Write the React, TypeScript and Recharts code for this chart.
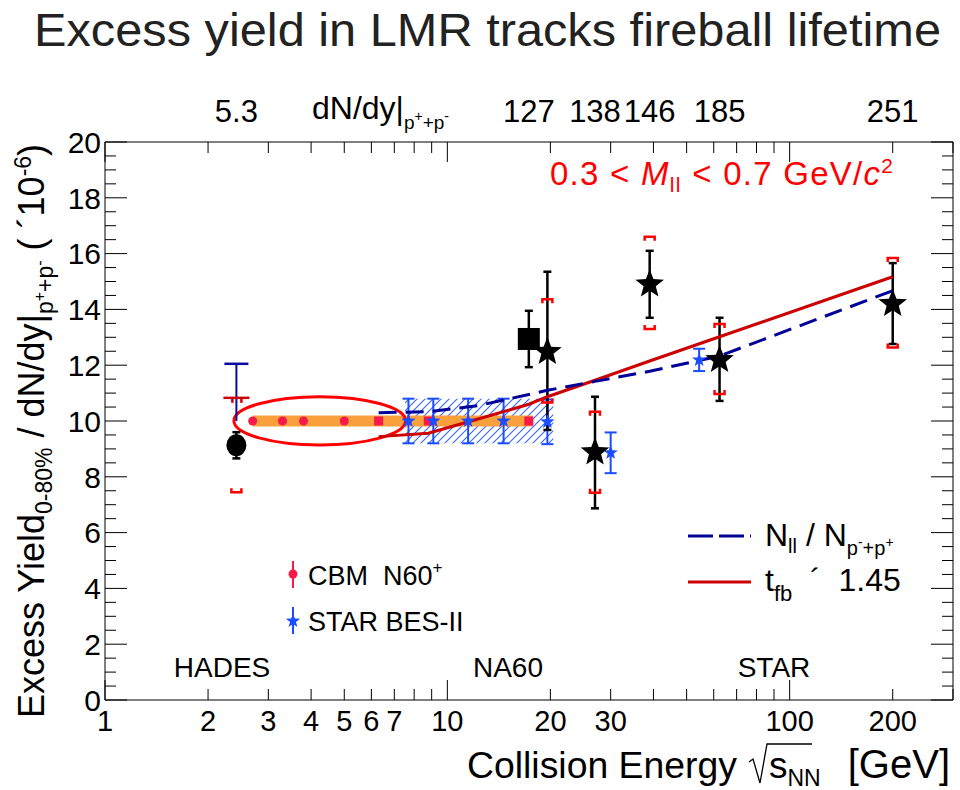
import React from 'react';
import { ComposedChart, XAxis, YAxis, Scatter, Line, ErrorBar, ReferenceArea } from 'recharts';

const FONT = '"Liberation Sans", Arial, Helvetica, sans-serif';

// HADES Au+Au
const hadesEnergy = [2.42];
const hadesYield = [9.13];
const hadesStat = [0.47];
const hadesSysHigh = [10.83];
const hadesSysLow = [7.45];
const hadesBarBase = [10];
const hadesBarTop = [12.05];

// NA60 In+In
const na60Energy = [17.3];
const na60Yield = [12.94];
const na60Stat = [1.01];

// STAR BES-I / 200 GeV
const starEnergy = [19.6, 27, 39, 62.4, 200];
const starYield = [12.48, 8.88, 14.9, 12.19, 14.2];
const starStatLow = [2.8, 2.01, 1.2, 1.47, 1.44];
const starStatHigh = [2.87, 1.99, 1.2, 1.51, 1.46];
const starSysHigh = [14.36, 10.33, 16.6, 13.48, 15.84];
const starSysLow = [10.66, 7.43, 13.3, 10.97, 12.63];

// CBM / NA60+ projections
const cbmEnergy = [2.7, 3.3, 3.8, 5.0];
const cbmYield = [10, 10, 10, 10];
const na60pEnergy = [6.3, 8.8, 17.3];
const na60pYield = [10, 10, 10];
const bandX = [2.7, 17.8];
const bandY = [9.8, 10.2];
const ellipseX = [2.38, 7.55];
const ellipseY = [9.14, 10.87];

// STAR BES-II projections
const besEnergy = [7.7, 9.1, 11.5, 14.6, 19.6, 30, 54.4];
const besYield = [10, 10, 10, 10, 9.97, 8.86, 12.19];
const besErr = [0.8, 0.8, 0.8, 0.8, 0.8, 0.73, 0.4];
const hatchX = [7.53, 20.4];
const hatchY = [9.2, 10.8];

// model curves
const modelEnergy = [6.3, 8.8, 12.3, 17.3, 19.6, 27, 39, 62.4, 200];
const lifetimeCurve = [9.44, 9.56, 10.07, 10.6, 10.87, 11.46, 12.15, 13.02, 15.17];
const ratioCurve = [10.3, 10.33, 10.55, 10.95, 11.1, 11.42, 11.78, 12.33, 14.67];

// axes
const xTicks = [1, 2, 3, 4, 5, 6, 7, 8, 9, 10, 20, 30, 40, 50, 60, 70, 80, 90, 100, 200, 300];
const xMajor = [1, 10, 100];
const xTickLabels = [1, 2, 3, 4, 5, 6, 7, 10, 20, 30, 100, 200];
const yMajor = [0, 2, 4, 6, 8, 10, 12, 14, 16, 18, 20];
const dndyEnergy = [2.42, 17.3, 27, 39, 62.4, 200];
const dndyLabels = ['5.3', '127', '138', '146', '185', '251'];

const yTicks = yMajor.flatMap((v) => (v < 20 ? [v, v + 0.5, v + 1, v + 1.5] : [v]));
const topTicks = Array.from(new Set([...xTicks, ...dndyEnergy])).sort((a, b) => a - b);

const hadesData = hadesEnergy.map((x, i) => ({ x, y: hadesYield[i], err: [hadesStat[i], hadesStat[i]] }));
const hadesSysTop = hadesEnergy.map((x, i) => ({ x, y: hadesSysHigh[i] }));
const hadesSysBottom = hadesEnergy.map((x, i) => ({ x, y: hadesSysLow[i] }));
const hadesBar = [
  { x: hadesEnergy[0], y: hadesBarBase[0] },
  { x: hadesEnergy[0], y: hadesBarTop[0] },
];
const na60Data = na60Energy.map((x, i) => ({ x, y: na60Yield[i], err: [na60Stat[i], na60Stat[i]] }));
const starData = starEnergy.map((x, i) => ({ x, y: starYield[i], err: [starStatLow[i], starStatHigh[i]] }));
const starSysTop = starEnergy.map((x, i) => ({ x, y: starSysHigh[i] }));
const starSysBottom = starEnergy.map((x, i) => ({ x, y: starSysLow[i] }));
const cbmData = cbmEnergy.map((x, i) => ({ x, y: cbmYield[i] }));
const na60pData = na60pEnergy.map((x, i) => ({ x, y: na60pYield[i] }));
const besData = besEnergy.map((x, i) => ({ x, y: besYield[i], err: [besErr[i], besErr[i]] }));
const lifetimeData = modelEnergy.map((x, i) => ({ x, y: lifetimeCurve[i] }));
const ratioData = modelEnergy.map((x, i) => ({ x, y: ratioCurve[i] }));

const CBM_RED = '#f7194a';
const BES_BLUE = '#1a4dff';
const NB = '\u00a0';

function starPoints(cx: number, cy: number, R: number, r: number) {
  const pts: string[] = [];
  for (let k = 0; k < 10; k++) {
    const a = ((-90 + k * 36) * Math.PI) / 180;
    const rad = k % 2 === 0 ? R : r;
    pts.push(`${(cx + rad * Math.cos(a)).toFixed(2)},${(cy + rad * Math.sin(a)).toFixed(2)}`);
  }
  return pts.join(' ');
}

const BlackStar = (p: any) => <polygon points={starPoints(p.cx, p.cy, 15, 6.4)} fill="#000" />;
const BlueStar = (p: any) => <polygon points={starPoints(p.cx, p.cy, 7.5, 3.1)} fill={BES_BLUE} />;
const BlackCircle = (p: any) => <ellipse cx={p.cx} cy={p.cy} rx={10} ry={11} fill="#000" />;
const BlackSquare = (p: any) => <rect x={p.cx - 11} y={p.cy - 11} width={22} height={22} fill="#000" />;
const RedDot = (p: any) => <circle cx={p.cx} cy={p.cy} r={4.5} fill={CBM_RED} />;
const RedSquare = (p: any) => <rect x={p.cx - 4.5} y={p.cy - 4.5} width={9} height={9} fill={CBM_RED} />;
const SysTop = (p: any) => (
  <path d={`M${p.cx - 5},${p.cy + 4}V${p.cy}H${p.cx + 5}V${p.cy + 4}`} fill="none" stroke="#ff0000" strokeWidth={2.5} />
);
const SysBottom = (p: any) => (
  <path d={`M${p.cx - 5},${p.cy - 4}V${p.cy}H${p.cx + 5}V${p.cy - 4}`} fill="none" stroke="#ff0000" strokeWidth={2.5} />
);
const HadesSysTop = (p: any) => (
  <g stroke="#cc0000" strokeWidth={2.5}>
    <line x1={p.cx - 13} x2={p.cx + 13} y1={p.cy} y2={p.cy} />
    <line x1={p.cx - 4} x2={p.cx - 4} y1={p.cy} y2={p.cy + 5} />
    <line x1={p.cx + 5} x2={p.cx + 5} y1={p.cy} y2={p.cy + 5} />
  </g>
);

function BottomTick(props: any) {
  const { x, y, payload } = props;
  const v = payload.value;
  return (
    <g>
      <line x1={x} x2={x} y1={y} y2={y - (xMajor.includes(v) ? 20 : 11)} stroke="#000" />
      {xTickLabels.includes(v) && (
        <text x={x} y={y + 31} textAnchor="middle" fontSize={29} fontFamily={FONT} fill="#000">
          {v}
        </text>
      )}
    </g>
  );
}

function TopTick(props: any) {
  const { x, y, payload } = props;
  const v = payload.value;
  const li = dndyEnergy.indexOf(v);
  return (
    <g>
      {xTicks.includes(v) && <line x1={x} x2={x} y1={y} y2={y + (xMajor.includes(v) ? 20 : 11)} stroke="#000" />}
      {li >= 0 && (
        <text x={x} y={y - 20} textAnchor="middle" fontSize={31} fontFamily={FONT} fill="#000">
          {dndyLabels[li]}
        </text>
      )}
    </g>
  );
}

function LeftTick(props: any) {
  const { x, y, payload } = props;
  const v = payload.value;
  const major = yMajor.includes(v);
  return (
    <g>
      <line x1={x} x2={x + (major ? 22 : 11)} y1={y} y2={y} stroke="#000" />
      {major && (
        <text x={x - 4} y={y} dy="0.36em" textAnchor="end" fontSize={30} fontFamily={FONT} fill="#000">
          {v}
        </text>
      )}
    </g>
  );
}

function RightTick(props: any) {
  const { x, y, payload } = props;
  const major = yMajor.includes(payload.value);
  return <line x1={x} x2={x - (major ? 22 : 11)} y1={y} y2={y} stroke="#000" />;
}

const Ellipse = (p: any) => (
  <ellipse
    cx={p.x + p.width / 2}
    cy={p.y + p.height / 2}
    rx={Math.abs(p.width) / 2}
    ry={Math.abs(p.height) / 2}
    fill="none"
    stroke="#ff0000"
    strokeWidth={3}
  />
);

const Hatch = (p: any) => (
  <g>
    <defs>
      <pattern id="besHatch" patternUnits="userSpaceOnUse" width={8} height={8}>
        <path d="M-2,2 L2,-2 M0,8 L8,0 M6,10 L10,6" stroke="#3366ff" strokeWidth={1.1} />
      </pattern>
    </defs>
    <rect x={p.x} y={p.y} width={p.width} height={p.height} fill="url(#besHatch)" stroke="none" />
  </g>
);

const HadesCap = (p: any) =>
  p.index === 1 ? (
    <line key="cap" x1={p.cx - 12} x2={p.cx + 12} y1={p.cy} y2={p.cy} stroke="#0a0aa0" strokeWidth={2.5} />
  ) : (
    <g key={`n${p.index}`} />
  );

const axisLine = { stroke: '#000', strokeWidth: 1 };

export default function App() {
  return (
    <div style={{ position: 'absolute', left: 0, top: 0, width: 960, height: 790, background: '#fff' }}>
      <ComposedChart width={960} height={790} margin={{ top: 82, right: 6, bottom: 50, left: 45 }}>
        <XAxis
          xAxisId="b"
          dataKey="x"
          type="number"
          scale="log"
          domain={[1, 300]}
          allowDataOverflow
          ticks={xTicks}
          interval={0}
          tickSize={0}
          tickMargin={0}
          tickLine={false}
          axisLine={axisLine}
          tick={BottomTick}
          height={40}
        />
        <XAxis
          xAxisId="t"
          orientation="top"
          dataKey="x"
          type="number"
          scale="log"
          domain={[1, 300]}
          allowDataOverflow
          ticks={topTicks}
          interval={0}
          tickSize={0}
          tickMargin={0}
          tickLine={false}
          axisLine={axisLine}
          tick={TopTick}
          height={60}
        />
        <YAxis
          yAxisId="l"
          dataKey="y"
          type="number"
          domain={[0, 20]}
          allowDataOverflow
          ticks={yTicks}
          interval={0}
          tickSize={0}
          tickMargin={0}
          tickLine={false}
          axisLine={axisLine}
          tick={LeftTick}
          width={60}
        />
        <YAxis
          yAxisId="r"
          orientation="right"
          dataKey="y"
          type="number"
          domain={[0, 20]}
          allowDataOverflow
          ticks={yTicks}
          interval={0}
          tickSize={0}
          tickMargin={0}
          tickLine={false}
          axisLine={axisLine}
          tick={RightTick}
          width={1}
        />

        <ReferenceArea
          xAxisId="b"
          yAxisId="l"
          x1={hatchX[0]}
          x2={hatchX[1]}
          y1={hatchY[0]}
          y2={hatchY[1]}
          shape={Hatch}
        />
        <ReferenceArea
          xAxisId="b"
          yAxisId="l"
          x1={bandX[0]}
          x2={bandX[1]}
          y1={bandY[0]}
          y2={bandY[1]}
          fill="#f9a03c"
          fillOpacity={1}
          stroke="none"
        />
        <ReferenceArea
          xAxisId="b"
          yAxisId="l"
          x1={ellipseX[0]}
          x2={ellipseX[1]}
          y1={ellipseY[0]}
          y2={ellipseY[1]}
          shape={Ellipse}
        />

        <Scatter xAxisId="b" yAxisId="l" data={cbmData} dataKey="y" shape={RedDot} isAnimationActive={false} />
        <Scatter xAxisId="b" yAxisId="l" data={na60pData} dataKey="y" shape={RedSquare} isAnimationActive={false} />
        <Scatter xAxisId="b" yAxisId="l" data={besData} dataKey="y" shape={BlueStar} isAnimationActive={false}>
          <ErrorBar dataKey="err" direction="y" width={6} stroke={BES_BLUE} strokeWidth={2} />
        </Scatter>

        <Scatter xAxisId="b" yAxisId="l" data={hadesSysTop} dataKey="y" shape={HadesSysTop} isAnimationActive={false} />
        <Scatter xAxisId="b" yAxisId="l" data={hadesSysBottom} dataKey="y" shape={SysBottom} isAnimationActive={false} />
        <Scatter xAxisId="b" yAxisId="l" data={starSysTop} dataKey="y" shape={SysTop} isAnimationActive={false} />
        <Scatter xAxisId="b" yAxisId="l" data={starSysBottom} dataKey="y" shape={SysBottom} isAnimationActive={false} />

        <Scatter xAxisId="b" yAxisId="l" data={hadesData} dataKey="y" shape={BlackCircle} isAnimationActive={false}>
          <ErrorBar dataKey="err" direction="y" width={4} stroke="#000" strokeWidth={2.5} />
        </Scatter>
        <Scatter xAxisId="b" yAxisId="l" data={na60Data} dataKey="y" shape={BlackSquare} isAnimationActive={false}>
          <ErrorBar dataKey="err" direction="y" width={4} stroke="#000" strokeWidth={2.5} />
        </Scatter>
        <Scatter xAxisId="b" yAxisId="l" data={starData} dataKey="y" shape={BlackStar} isAnimationActive={false}>
          <ErrorBar dataKey="err" direction="y" width={4} stroke="#000" strokeWidth={2.5} />
        </Scatter>

        <Line
          xAxisId="b"
          yAxisId="l"
          data={lifetimeData}
          dataKey="y"
          type="linear"
          stroke="#cc0000"
          strokeWidth={3}
          dot={false}
          isAnimationActive={false}
        />
        <Line
          xAxisId="b"
          yAxisId="l"
          data={ratioData}
          dataKey="y"
          type="linear"
          stroke="#000099"
          strokeWidth={3}
          strokeDasharray="18 9"
          dot={false}
          isAnimationActive={false}
        />
        <Line
          xAxisId="b"
          yAxisId="l"
          data={hadesBar}
          dataKey="y"
          type="linear"
          stroke="#0a0aa0"
          strokeWidth={2}
          dot={HadesCap}
          isAnimationActive={false}
        />
      </ComposedChart>

      <svg
        width={960}
        height={790}
        style={{ position: 'absolute', left: 0, top: 0, pointerEvents: 'none' }}
        fontFamily={FONT}
      >
        <text x={34} y={46} fontSize={47} fill="#222" textLength={907} lengthAdjust="spacingAndGlyphs">
          Excess yield in LMR tracks fireball lifetime
        </text>

        <text x={312} y={119} fontSize={32} fill="#000">
          dN/dy|
          <tspan fontSize={19} dy={10}>p</tspan>
          <tspan fontSize={14} dy={-8}>+</tspan>
          <tspan fontSize={19} dy={8}>+p</tspan>
          <tspan fontSize={14} dy={-8}>-</tspan>
        </text>

        <text x={550} y={185} fontSize={33} fill="#ff0000" textLength={343} lengthAdjust="spacing">
          0.3 {'<'} <tspan fontStyle="italic">M</tspan>
          <tspan fontSize={21} dy={7}>ll</tspan>
          <tspan dy={-7}> {'<'} 0.7 GeV/</tspan>
          <tspan fontStyle="italic">c</tspan>
          <tspan fontSize={21} dy={-12}>2</tspan>
        </text>

        <text transform="translate(44,431) rotate(-90)" textAnchor="middle" fontSize={36} fill="#000">
          Excess Yield
          <tspan fontSize={23} dy={8}>0-80%</tspan>
          <tspan dy={-8}> / dN/dy|</tspan>
          <tspan fontSize={23} dy={9}>p</tspan>
          <tspan fontSize={16} dy={-8}>+</tspan>
          <tspan fontSize={23} dy={8}>+p</tspan>
          <tspan fontSize={16} dy={-8}>-</tspan>
          <tspan dy={-1}> ( ´10</tspan>
          <tspan fontSize={23} dy={-13}>-6</tspan>
          <tspan dy={13}>)</tspan>
        </text>

        <text x={467} y={778} fontSize={37} fill="#000" textLength={270} lengthAdjust="spacingAndGlyphs">
          Collision Energy
        </text>
        <path d="M749,762 L753,759 L760,783 L767,744 L812,744" fill="none" stroke="#000" strokeWidth={1.3} />
        <text x={769} y={778} fontSize={37} fill="#000">
          s<tspan fontSize={23} dy={8}>NN</tspan>
        </text>
        <text x={950} y={778} textAnchor="end" fontSize={40} fill="#000">
          [GeV]
        </text>

        <text x={222} y={677} textAnchor="middle" fontSize={28} fill="#000">HADES</text>
        <text x={508} y={677} textAnchor="middle" fontSize={28} fill="#000">NA60</text>
        <text x={774} y={677} textAnchor="middle" fontSize={28} fill="#000">STAR</text>

        <line x1={293} x2={293} y1={561} y2={588} stroke={CBM_RED} strokeWidth={2} />
        <circle cx={293} cy={574} r={4.5} fill={CBM_RED} />
        <text x={308} y={585} fontSize={27} fill="#000">
          {`CBM${NB}${NB}N60`}
          <tspan fontSize={17} dy={-12}>+</tspan>
        </text>
        <line x1={293} x2={293} y1={607} y2={634} stroke={BES_BLUE} strokeWidth={2} />
        <polygon points={starPoints(293, 621, 7.5, 3.1)} fill={BES_BLUE} />
        <text x={308} y={631} fontSize={27} fill="#000">STAR BES-II</text>

        <line x1={688} x2={751} y1={536} y2={536} stroke="#000099" strokeWidth={3} strokeDasharray="25 6" />
        <text x={765} y={546} fontSize={32} fill="#000">
          N<tspan fontSize={20} dy={7}>ll</tspan>
          <tspan dy={-7}> / N</tspan>
          <tspan fontSize={20} dy={9}>p</tspan>
          <tspan fontSize={14} dy={-8}>-</tspan>
          <tspan fontSize={20} dy={8}>+p</tspan>
          <tspan fontSize={14} dy={-8}>+</tspan>
        </text>
        <line x1={688} x2={751} y1={582} y2={582} stroke="#cc0000" strokeWidth={3} />
        <text x={765} y={591} fontSize={32} fill="#000">
          t<tspan fontSize={22} dy={10}>fb</tspan>
          <tspan dy={-10}>{`${NB}${NB}´${NB}${NB}1.45`}</tspan>
        </text>
      </svg>
    </div>
  );
}
